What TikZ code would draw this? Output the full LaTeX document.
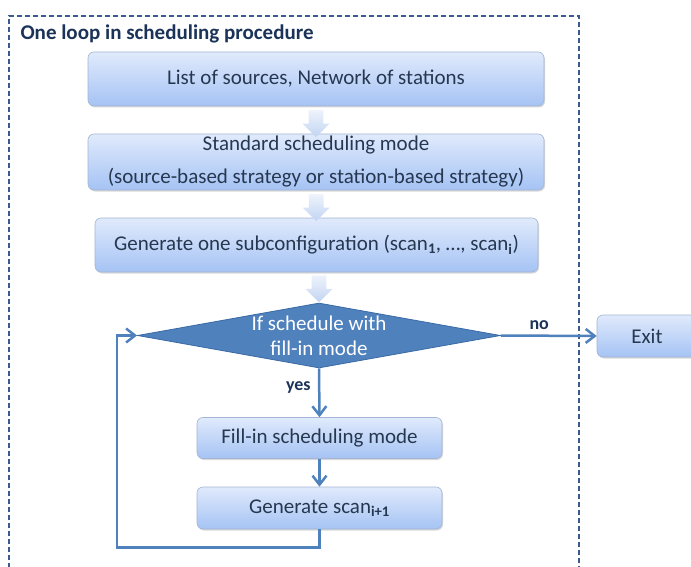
\documentclass[tikz,border=0pt]{standalone}
\usepackage{fontspec}
\setmainfont{Carlito}
\usepackage{tikz}
\usetikzlibrary{shapes, shapes.arrows, shadows, calc, positioning, arrows.meta}
\definecolor{Frame}{HTML}{3B5B8C}
\definecolor{Flow}{HTML}{4F81BD}
\definecolor{FlowDark}{HTML}{3A6AA6}
\definecolor{BoxTop}{HTML}{E0EAFC}
\definecolor{BoxBottom}{HTML}{A5C3F4}
\definecolor{BoxLine}{HTML}{A3B5D3}
\definecolor{Ink}{HTML}{263850}
\definecolor{Title}{HTML}{1B3358}
\definecolor{ArrTop}{HTML}{EEF3FC}
\definecolor{ArrBottom}{HTML}{C2D4F2}

\begin{document}
\begin{tikzpicture}[x=1pt, y=-1pt,
procbox/.style={
	rectangle,
	rounded corners=6pt,
	draw=BoxLine,
	line width=0.6pt,
	top color=BoxTop,
	bottom color=BoxBottom,
	drop shadow={shadow xshift=1pt, shadow yshift=-1.5pt, opacity=0.3},
	font=\fontsize{21}{25}\selectfont,
	text=Ink,
	align=center,
	inner sep=0pt},
blockarrow/.style={
	single arrow,
	shape border rotate=270,
	single arrow head extend=6pt,
	single arrow tip angle=90,
	inner sep=7pt,
	minimum width=27pt,
	minimum height=27pt,
	top color=ArrTop,
	bottom color=ArrBottom,
	draw=none},
decision/.style={
	diamond,
	fill=Flow,
	draw=FlowDark,
	line width=0.8pt,
	inner sep=0pt,
	minimum width=363pt,
	minimum height=65pt},
decisiontext/.style={
	font=\fontsize{21}{25}\selectfont,
	text=white,
	align=center},
flow/.style={
	draw=Flow,
	line width=2.5pt,
	-{Straight Barb[length=9pt, width=14pt, line width=2.5pt]}},
loop/.style={
	draw=Flow,
	line width=2.5pt},
answer/.style={
	font=\bfseries\fontsize{18}{21}\selectfont,
	text=Title},
frame/.style={
	draw=Frame,
	line width=1.4pt,
	dash pattern=on 5pt off 3pt}]

\useasboundingbox (0,0) rectangle (691,567);

%Frame and title
\draw[frame] (9,600) |- (579,16) -- (579,600);
\node[anchor=west, font=\bfseries\fontsize{21}{25}\selectfont, text=Title] (title) at (17,34) {One loop in scheduling procedure};

%Boxes
\node[procbox, minimum width=456pt, minimum height=54pt] (sources) at (316,79) {List of sources, Network of stations};
\node[procbox, minimum width=456pt, minimum height=56pt, font=\fontsize{21}{33}\selectfont] (standard) at (316,162) {Standard scheduling mode\\(source-based strategy or station-based strategy)};
\node[procbox, minimum width=443pt, minimum height=54pt] (subconf) at (316.5,245) {Generate one subconfiguration (scan\textsubscript{\bfseries 1}, …, scan\textsubscript{\bfseries i})};

\node[decision, label={[decisiontext]center:If schedule with\\fill-in mode}] (fillq) at (319,335.5) {};

\node[procbox, minimum width=245pt, minimum height=41pt] (fillin) at (319.5,438) {Fill-in scheduling mode};
\node[procbox, minimum width=245pt, minimum height=42pt] (nextscan) at (319.5,508) {Generate scan\textsubscript{\bfseries i+1}};

\node[procbox, minimum width=100pt, minimum height=42pt] (exit) at (647,336) {Exit};

%Block arrows
\node[blockarrow] (a1) at ($(sources.south)!0.5!(standard.north)$) {};
\node[blockarrow] (a2) at ($(standard.south)!0.5!(subconf.north)$) {};
\node[blockarrow, anchor=tip] (a3) at (fillq.north) {};

%Connectors
\path[flow] (fillq.east) to node[answer, above=1pt, pos=.4] {no} (exit.west);
\path[flow] (fillq.south) to node[answer, left=4pt, pos=.4] {yes} (fillin.north);
\path[flow] (fillin.south) to (nextscan.north);
\path[loop] (nextscan.south) -- ++(0,18) -| ([xshift=-20pt]fillq.west);
\path[flow] ([xshift=-21.25pt]fillq.west) -- (fillq.west);

\end{tikzpicture}
\end{document}
